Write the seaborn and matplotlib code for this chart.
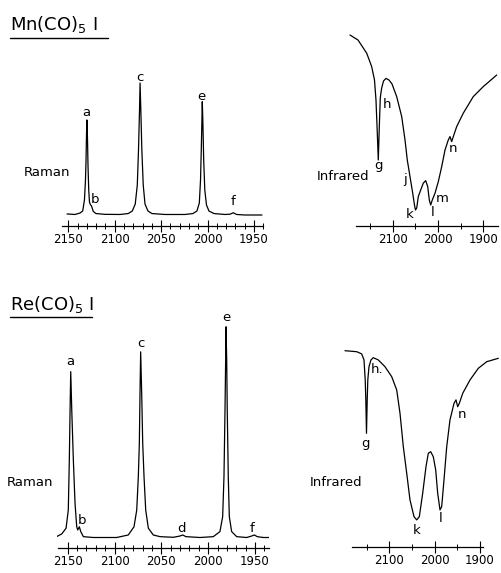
import matplotlib
matplotlib.use("Agg")
import matplotlib.pyplot as plt
from matplotlib import font_manager
import seaborn as sns
import pandas as pd

mn_raman_wn = [2151.4, 2142.8, 2137.4, 2134.5, 2132.6, 2131.5, 2130.9, 2130.4, 2130.0, 2129.3,
               2128.8, 2128.0, 2127.2, 2126.3, 2125.0, 2123.1, 2120.2, 2110.5, 2094.3, 2085.5,
               2081.1, 2077.9, 2075.7, 2074.4, 2073.3, 2072.7, 2071.9, 2070.8, 2069.3, 2067.4,
               2064.2, 2059.9, 2045.9, 2024.4, 2015.8, 2011.5, 2008.9, 2007.6, 2006.8, 2006.1,
               2005.7, 2005.0, 2004.2, 2003.0, 2001.2, 1998.5, 1993.1, 1981.2, 1975.9, 1972.3,
               1968.8, 1959.7, 1941.4]
mn_raman_int = [0.8, 0.4, 1.5, 3.0, 11.4, 26.5, 41.7, 60.6, 72.0, 56.8,
                37.9, 18.9, 9.8, 8.0, 6.8, 2.7, 1.1, 0.5, 0.4, 1.1,
                3.0, 8.3, 22.7, 49.2, 79.5, 100, 79.5, 49.2, 22.7, 8.3,
                3.0, 1.1, 0.4, 0.4, 1.1, 3.0, 9.1, 26.5, 49.2, 72.0,
                85.8, 68.2, 41.7, 18.9, 7.6, 3.0, 1.1, 0.4, 0.6, 1.7,
                0.4, 0, 0]

mn_ir_wn = [2194.3, 2176.6, 2157.4, 2146.4, 2140.2, 2136.9, 2134.0, 2131.8, 2129.6, 2127.4,
            2126.0, 2124.3, 2120.3, 2114.8, 2108.2, 2101.5, 2091.2, 2080.1, 2072.8, 2067.8,
            2061.8, 2055.8, 2051.9, 2049.7, 2047.0, 2043.5, 2038.2, 2032.5, 2027.2, 2022.7,
            2019.2, 2016.1, 2012.6, 2006.6, 1999.3, 1991.8, 1984.5, 1977.3, 1973.5, 1969.8,
            1966.2, 1958.7, 1944.2, 1922.1, 1900.0, 1870.4]
mn_ir_t = [95.5, 93, 86.4, 79.7, 73, 63, 46.5, 33, 49.5, 64,
           66.5, 69, 72.5, 73.8, 73, 71, 64.7, 54.7, 43, 33,
           24.7, 16.4, 10.5, 8, 9, 14.7, 18, 21.4, 22.7, 19.7,
           13, 10.5, 13, 16.4, 22.2, 29.7, 38, 43, 44.7, 42.2,
           44.7, 49.7, 56.4, 64.7, 69.7, 75.5]

re_raman_wn = [2162.0, 2156.4, 2151.8, 2149.4, 2148.3, 2147.5, 2146.8, 2145.7, 2144.0, 2142.2,
               2140.4, 2139.3, 2137.6, 2136.1, 2133.3, 2122.7, 2097.7, 2085.3, 2079.2, 2076.3,
               2074.6, 2073.5, 2072.8, 2072.1, 2071.0, 2069.9, 2068.5, 2066.7, 2063.9, 2058.6,
               2051.4, 2037.2, 2030.1, 2027.2, 2023.7, 2008.7, 1994.5, 1987.4, 1984.5, 1983.1,
               1982.0, 1981.3, 1980.9, 1980.2, 1979.6, 1978.5, 1977.4, 1974.9, 1969.5, 1958.9,
               1953.5, 1950.7, 1947.5, 1941.1, 1935.0]
re_raman_int = [0.4, 1.7, 4.4, 13.0, 36.8, 60.5, 78.7, 60.5, 36.8, 16.2,
                5.1, 3.6, 5.1, 2.8, 0.4, 0, 0, 1.2, 5.1, 13.0,
                28.8, 44.7, 68.4, 88.1, 68.4, 44.7, 28.8, 13.0, 4.4, 1.2,
                0.4, 0.1, 0.7, 1.2, 0.4, 0, 0.4, 2.8, 9.9, 28.8,
                60.5, 84.2, 100, 84.2, 60.5, 28.8, 9.9, 2.8, 0.4, 0,
                0.7, 1.2, 0.4, 0, 0]

re_ir_wn = [2197.7, 2171.9, 2160.9, 2155.8, 2153.1, 2151.8, 2150.3, 2148.7, 2147.4, 2144.8,
            2140.4, 2135.3, 2124.3, 2109.5, 2094.7, 2083.7, 2076.4, 2069.1, 2061.6, 2054.4,
            2045.5, 2039.6, 2033.8, 2026.4, 2019.1, 2014.0, 2008.7, 2003.0, 1997.7, 1993.3,
            1988.2, 1984.5, 1979.4, 1973.4, 1966.2, 1957.3, 1952.9, 1949.2, 1945.6, 1938.1,
            1922.0, 1903.7, 1885.2, 1859.6]
re_ir_t = [98, 97.5, 96.4, 93.4, 83.4, 73.4, 56.7, 73.4, 83.4, 90,
           93.4, 94.5, 93.4, 90, 85, 78.4, 66.7, 50, 36.7, 23.4,
           15, 13.4, 15, 26.7, 40, 46.7, 47.5, 45, 38.4, 26.7,
           18.4, 20, 33.4, 50, 63.4, 71.7, 73.4, 70, 71.7, 76.7,
           83.4, 89.2, 92.5, 94.2]

# band letters
mn_raman_bands = ["a", "b", "c", "e", "f"]
mn_raman_band_wn = [2130.9, 2121.2, 2072.8, 2006.3, 1972.6]
mn_raman_band_y = [78.0, 11.4, 104.5, 89.4, 10.1]

mn_ir_bands = ["h", "g", "j", "k", "l", "m", "n"]
mn_ir_band_wn = [2111.9, 2131.8, 2072.8, 2061.8, 2011.7, 1991.8, 1967.5]
mn_ir_band_y = [60.5, 30.5, 23, 5.5, 6.5, 13.5, 38.9]

re_raman_bands = ["a", "b", "c", "d", "e", "f"]
re_raman_band_wn = [2147.5, 2135.1, 2072.1, 2028.3, 1981.0, 1952.9]
re_raman_band_y = [83.4, 8.3, 92.1, 4.4, 104.5, 4.4]

re_ir_bands = ["g", "h.", "k", "l", "n"]
re_ir_band_wn = [2152.0, 2127.0, 2039.6, 1986.7, 1940.4]
re_ir_band_y = [51.7, 88.4, 8.0, 14.2, 65.9]

raman_major = [2150, 2100, 2050, 2000, 1950]
ir_major = [2100, 2000, 1900]
ir_minor = [2150, 2050, 1950]

sns.set_style("white")
plt.rcParams["font.family"] = ["DejaVu Sans"]
plt.rcParams["text.color"] = "black"
plt.rcParams["xtick.color"] = "black"
installed = {f.name for f in font_manager.fontManager.ttflist}
tick_font = "Liberation Sans Narrow" if "Liberation Sans Narrow" in installed else "DejaVu Sans"

W, H = 501, 573
fig = plt.figure(figsize=(W / 100, H / 100), dpi=100)


def px_axes(x0, y0, x1, y1):
    return fig.add_axes([x0 / W, 1 - y1 / H, (x1 - x0) / W, (y1 - y0) / H])


def draw_panel(ax, wn, vals, xlim, ylim, spine, major, minor, bands, band_wn, band_y):
    df = pd.DataFrame({"wavenumber": wn, "signal": vals})
    sns.lineplot(data=df, x="wavenumber", y="signal", ax=ax, color="black",
                 lw=0.9, sort=False, estimator=None)
    ax.set_xlim(*xlim)
    ax.set_ylim(*ylim)
    for s in ["left", "right", "top"]:
        ax.spines[s].set_visible(False)
    ax.spines["bottom"].set_bounds(*spine)
    ax.spines["bottom"].set_linewidth(0.9)
    ax.spines["bottom"].set_color("black")
    ax.set_yticks([])
    ax.set_xticks(major)
    ax.set_xticklabels([str(t) for t in major], fontfamily=tick_font)
    ax.set_xticks(minor, minor=True)
    ax.tick_params(axis="x", which="major", bottom=True, direction="inout", length=8,
                   width=0.8, pad=1, labelsize=8.5, colors="black")
    ax.tick_params(axis="x", which="minor", bottom=True, direction="inout", length=5,
                   width=0.7, colors="black")
    ax.set_xlabel("")
    ax.set_ylabel("")
    ax.patch.set_visible(False)
    for lab, x, y in zip(bands, band_wn, band_y):
        ax.text(x, y, lab, ha="center", va="center", fontsize=9.5, color="black")


raman_minor_mn = [w for w in range(2150, 1939, -10) if w not in raman_major]
raman_minor_re = [w for w in range(2140, 1934, -10) if w not in raman_major]

ax1 = px_axes(61.8, 60, 263.3, 225.7)
draw_panel(ax1, mn_raman_wn, mn_raman_int, (2157, 1940), (-8.1, 117.4), (2157, 1940),
           raman_major, raman_minor_mn, mn_raman_bands, mn_raman_band_wn, mn_raman_band_y)

ax2 = px_axes(347.4, 20, 500.5, 226)
draw_panel(ax2, mn_ir_wn, mn_ir_t, (2200, 1862), (0, 103), (2182, 1868),
           ir_major, ir_minor, mn_ir_bands, mn_ir_band_wn, mn_ir_band_y)

ax3 = px_axes(56.5, 300, 269.0, 547.7)
draw_panel(ax3, re_raman_wn, re_raman_int, (2162, 1935), (-4.84, 112.7), (2160, 1935),
           raman_major, raman_minor_re, re_raman_bands, re_raman_band_wn, re_raman_band_y)

ax4 = px_axes(343.95, 330, 499.05, 546.7)
draw_panel(ax4, re_ir_wn, re_ir_t, (2200, 1858), (0, 108.35), (2183, 1893),
           ir_major, ir_minor, re_ir_bands, re_ir_band_wn, re_ir_band_y)

# compound names, underlined
fig.text(10 / W, 1 - 30 / H, "Mn(CO)$_5$ I", fontsize=13, va="baseline")
fig.add_artist(plt.Line2D([10 / W, 108 / W], [1 - 38 / H] * 2, color="black", lw=1))
fig.text(10 / W, 1 - 310 / H, "Re(CO)$_5$ I", fontsize=13, va="baseline")
fig.add_artist(plt.Line2D([10 / W, 92 / W], [1 - 316.7 / H] * 2, color="black", lw=1))

fig.text(47.3 / W, 1 - 173 / H, "Raman", fontsize=9.5, ha="center", va="center")
fig.text(30 / W, 1 - 483 / H, "Raman", fontsize=9.5, ha="center", va="center")
fig.text(343.3 / W, 1 - 176 / H, "Infrared", fontsize=9.5, ha="center", va="center")
fig.text(335.8 / W, 1 - 483 / H, "Infrared", fontsize=9.5, ha="center", va="center")

fig.savefig("out.png", dpi=100, facecolor="white")
